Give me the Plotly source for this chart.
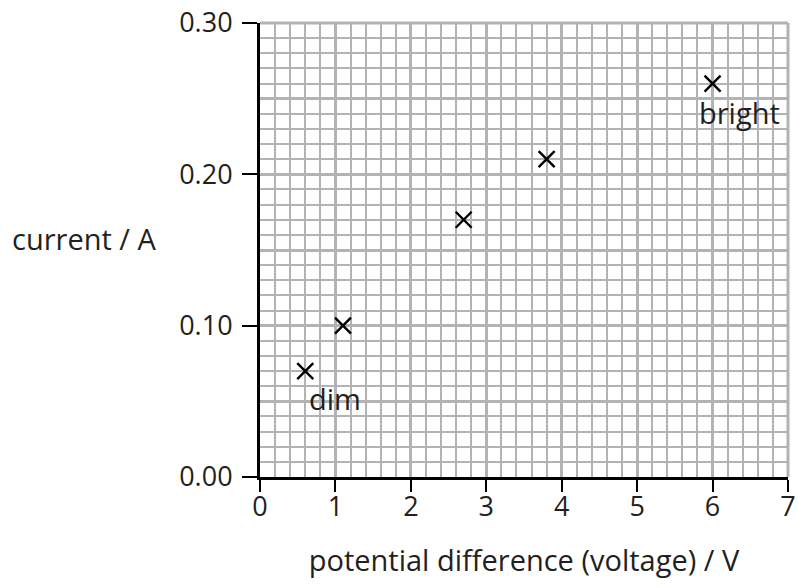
import plotly.graph_objects as go

voltage = [0.6, 1.1, 2.7, 3.8, 6.0]
current = [0.07, 0.10, 0.17, 0.21, 0.26]
x_ticks = [0, 1, 2, 3, 4, 5, 6, 7]
y_ticks = [0.0, 0.1, 0.2, 0.3]
y_tick_text = ["0.00", "0.10", "0.20", "0.30"]

FONT = "Open Sans"
GRID = "#b3b3b3"
TXT = "#231f20"

fig = go.Figure()
fig.add_trace(go.Scatter(
    x=voltage, y=current, mode="markers",
    marker=dict(symbol="x-thin", size=16, line=dict(color="black", width=2.4)),
    hoverinfo="skip", showlegend=False,
))
# helper trace for the half-step heavy grid axis
fig.add_trace(go.Scatter(x=[None], y=[None], yaxis="y2", mode="markers",
                         showlegend=False, hoverinfo="skip"))

fig.update_layout(
    width=798, height=588,
    margin=dict(l=260, r=10, t=23, b=111),
    paper_bgcolor="white", plot_bgcolor="white",
    font=dict(family=FONT, size=27, color=TXT),
    xaxis=dict(
        range=[0, 7], tickvals=x_ticks, ticks="outside", ticklen=12, tickwidth=2,
        tickcolor="black", showline=True, linecolor="black", linewidth=3,
        showgrid=True, gridcolor=GRID, gridwidth=3, zeroline=False,
        ticklabelstandoff=-8, ticklabeloverflow="allow",
        minor=dict(dtick=0.2, showgrid=True, gridcolor=GRID, gridwidth=1.6),
        title=dict(text="potential difference (voltage) / V", standoff=28,
                   font=dict(size=29)),
        tickfont=dict(size=27), automargin=False,
    ),
    yaxis=dict(
        range=[0, 0.3], tickvals=y_ticks, ticktext=y_tick_text, ticks="outside",
        ticklen=15, tickwidth=2, tickcolor="black", showline=True,
        linecolor="black", linewidth=3, showgrid=True, gridcolor=GRID,
        gridwidth=3, zeroline=False, ticklabelstandoff=4,
        ticklabeloverflow="allow",
        minor=dict(dtick=0.01, showgrid=True, gridcolor=GRID, gridwidth=1.6),
        tickfont=dict(size=27), automargin=False,
    ),
    yaxis2=dict(
        range=[0, 0.3], overlaying="y", tick0=0.05, dtick=0.1, showgrid=True,
        gridcolor=GRID, gridwidth=3, showticklabels=False, ticks="",
        zeroline=False, showline=False, automargin=False,
    ),
    shapes=[
        dict(type="line", xref="paper", yref="paper", x0=0, x1=1, y0=1, y1=1,
             line=dict(color=GRID, width=3), layer="below"),
        dict(type="line", xref="paper", yref="paper", x0=1, x1=1, y0=0, y1=1,
             line=dict(color=GRID, width=3), layer="below"),
    ],
    annotations=[
        dict(text="current / A", xref="paper", yref="paper", x=-0.333, y=0.526,
             showarrow=False, xanchor="center", yanchor="middle",
             font=dict(size=29)),
        dict(text="dim", xref="x", yref="y", x=voltage[0], y=current[0],
             xshift=30, yshift=-27, showarrow=False, font=dict(size=29)),
        dict(text="bright", xref="x", yref="y", x=voltage[4], y=current[4],
             xshift=27, yshift=-29, showarrow=False, font=dict(size=29)),
    ],
)

fig.write_html("out.html", config={"displayModeBar": False},
               post_script="document.body.style.margin='0';")
